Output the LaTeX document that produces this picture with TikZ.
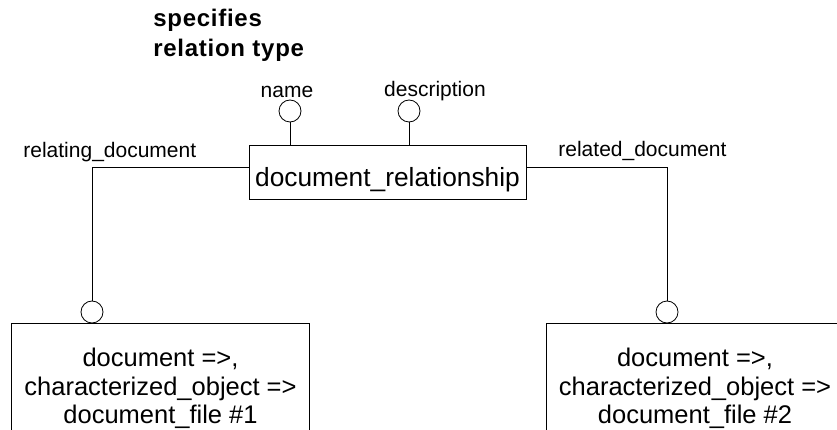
\documentclass[tikz,border=0pt]{standalone}
\usepackage{fontspec}
\setmainfont{Liberation Sans}
\usetikzlibrary{positioning}
\tikzset{
  ent_n/.style = {rectangle, draw=black, align=center, fill=white,
    font=\fontsize{25.5}{28.5}\selectfont},
  ent_big/.style = {ent_n, minimum width=298pt, inner ysep=25pt},
  attr_c/.style = {circle, draw=black, fill=white, inner sep=0pt,
    minimum size=22pt},
  attr_l/.style = {inner sep=0pt, anchor=base,
    font=\fontsize{21}{22}\selectfont},
}

\begin{document}
\begin{tikzpicture}[x=1pt, y=-1pt, line width=0.8pt]
  \useasboundingbox (0,0) rectangle (837,430);
  \clip (0,0) rectangle (837,430);

  % heading
  \node [anchor=base west, inner sep=0pt, align=left,
    font=\fontsize{24}{30}\selectfont\bfseries\addfontfeature{LetterSpace=3}]
    (head) at (153,57) {specifies\\relation type};

  % relationship entity
  \node [ent_n, minimum width=277pt, text height=38pt, text depth=8pt,
    inner ysep=4pt, anchor=base, font=\fontsize{26.3}{28}\selectfont]
    (rel) at (387.5,187) {document\_relationship};

  \node [attr_c] (name_c) at (290,111) {};
  \node [attr_c] (desc_c) at (409,111) {};
  \node [attr_l] (name_l) at (287,98) {name};
  \node [attr_l] (desc_l) at (435,97) {description};
  \draw (name_c) -- (name_c |- rel.north);
  \draw (desc_c) -- (desc_c |- rel.north);

  % the two document entities
  \node [ent_big, anchor=north] (doc1) at (160.5,323)
    {document =>,\\characterized\_object =>\\document\_file \#1};
  \node [ent_big, anchor=north] (doc2) at (695,323)
    {document =>,\\characterized\_object =>\\document\_file \#2};

  \node [attr_c] (doc1_c) at (92,312) {};
  \node [attr_c] (doc2_c) at (667,312) {};

  \draw ([yshift=5pt]rel.west) -| (doc1_c);
  \draw ([yshift=5pt]rel.east) -| (doc2_c);

  \node [attr_l, anchor=base west] (rel1_l) at (23,158) {relating\_document};
  \node [attr_l, anchor=base west] (rel2_l) at (558,157) {related\_document};
\end{tikzpicture}
\end{document}
